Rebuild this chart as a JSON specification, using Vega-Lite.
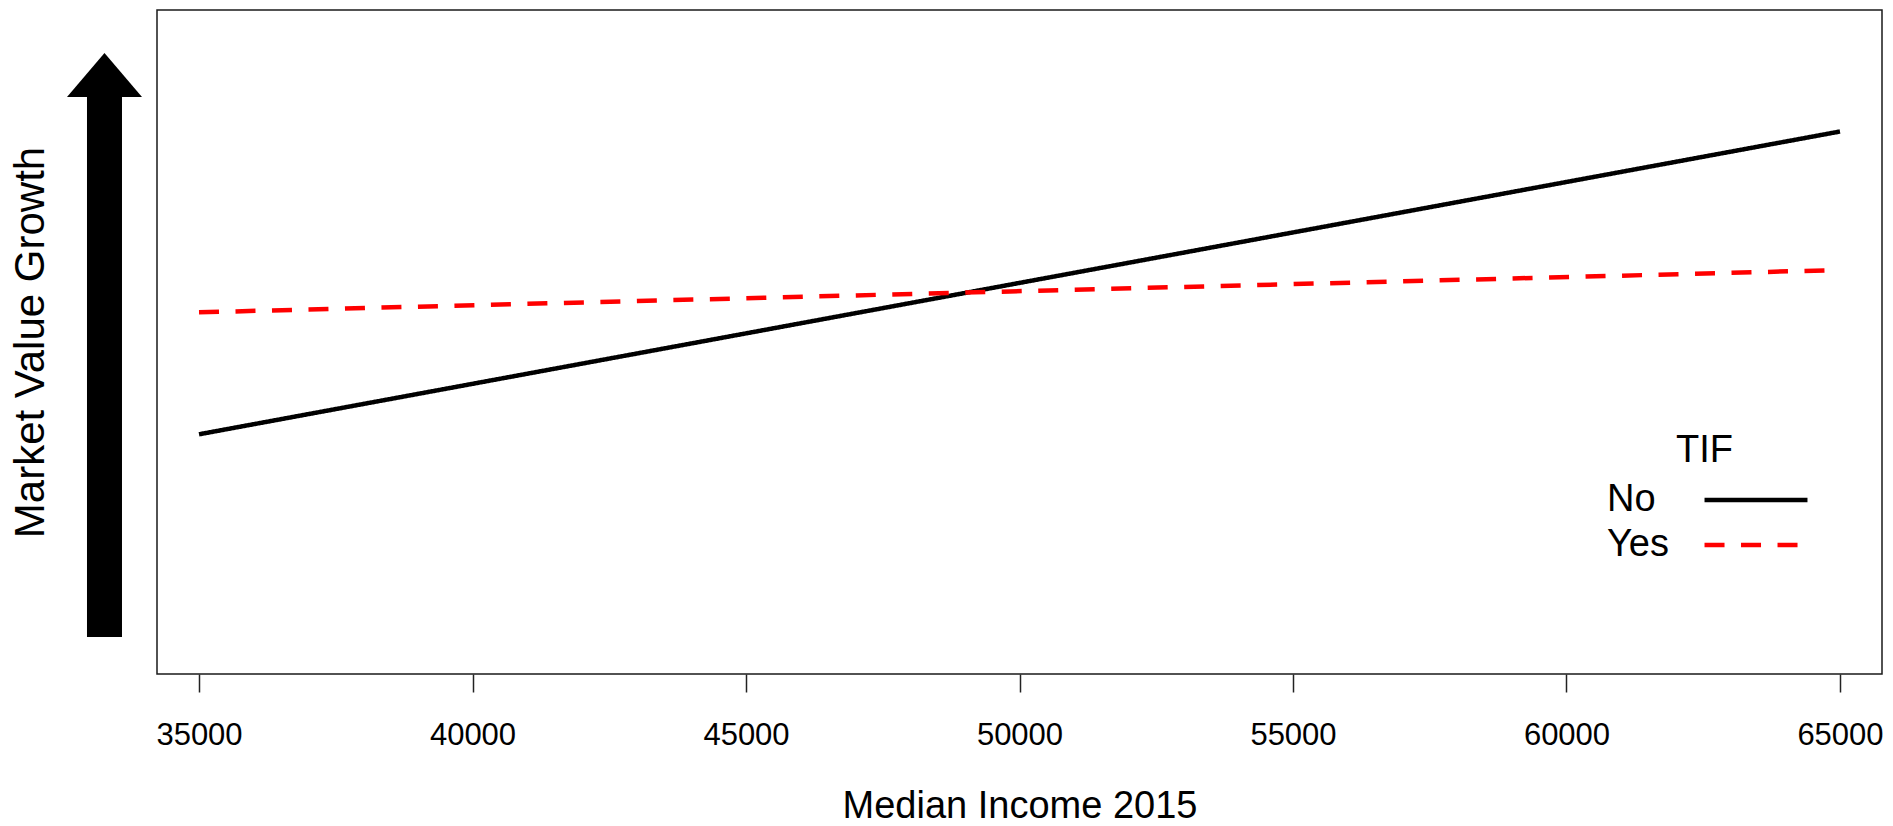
{
  "$schema": "https://vega.github.io/schema/vega-lite/v6.json",
  "autosize": {"type": "none"},
  "padding": {"left": 157, "top": 10, "right": 11, "bottom": 152},
  "width": 1725,
  "height": 664,
  "background": "white",
  "config": {
    "view": {"stroke": "#1a1a1a", "strokeWidth": 1.5},
    "axis": {"grid": false},
    "legend": {
      "orient": "none",
      "legendX": 1519.5,
      "legendY": 422,
      "padding": 0,
      "symbolType": "M-10,0H10",
      "symbolSize": 106,
      "symbolStrokeWidth": 4.5,
      "symbolOffset": 32.5,
      "rowPadding": 7,
      "labelOffset": -168,
      "labelAlign": "left",
      "labelBaseline": "middle",
      "labelFont": "Liberation Sans",
      "labelFontSize": 38,
      "labelColor": "black",
      "labelLimit": 0,
      "titleFont": "Liberation Sans",
      "titleFontSize": 38,
      "titleFontWeight": "normal",
      "titleColor": "black",
      "titleAnchor": "start",
      "titleAlign": "center",
      "titlePadding": 11
    }
  },
  "layer": [
    {
      "data": {"values": [{}]},
      "mark": {"type": "rect", "fill": "black"},
      "encoding": {
        "x": {"datum": 32952, "type": "quantitative"},
        "x2": {"datum": 33592},
        "y": {"datum": 5.57, "type": "quantitative"},
        "y2": {"datum": 86.9}
      }
    },
    {
      "data": {"values": [{}]},
      "mark": {"type": "point", "shape": "M0,-0.587L-1,0.587L1,0.587Z", "size": 5625, "filled": true, "fill": "black", "opacity": 1, "strokeWidth": 0},
      "encoding": {
        "x": {"datum": 33272, "type": "quantitative"},
        "y": {"datum": 90.21, "type": "quantitative"}
      }
    },
    {
      "data": {
        "values": [
          {"income": 35000, "growth": 36.1, "TIF": "No"},
          {"income": 65000, "growth": 81.7, "TIF": "No"},
          {"income": 35000, "growth": 54.47, "TIF": "Yes"},
          {"income": 65000, "growth": 60.84, "TIF": "Yes"}
        ]
      },
      "mark": {"type": "line", "strokeWidth": 4.5, "strokeCap": "butt"},
      "encoding": {
        "x": {
          "field": "income",
          "type": "quantitative",
          "scale": {"domain": [34232, 65768], "nice": false, "zero": false},
          "axis": {
            "title": "Median Income 2015",
            "values": [35000, 40000, 45000, 50000, 55000, 60000, 65000],
            "format": "d",
            "domain": false,
            "grid": false,
            "tickSize": 18,
            "tickWidth": 1.5,
            "tickColor": "#222222",
            "labelFont": "Liberation Sans",
            "labelFontSize": 31,
            "labelColor": "black",
            "labelPadding": 28.5,
            "labelFlush": false,
            "labelOverlap": false,
            "titleFont": "Liberation Sans",
            "titleFontSize": 38,
            "titleFontWeight": "normal",
            "titleColor": "black",
            "titlePadding": 36.5
          }
        },
        "y": {
          "field": "growth",
          "type": "quantitative",
          "scale": {"domain": [0, 100], "nice": false, "zero": false},
          "axis": {
            "title": "Market Value Growth",
            "labels": false,
            "ticks": false,
            "domain": false,
            "grid": false,
            "titleFont": "Liberation Sans",
            "titleFontSize": 42,
            "titleFontWeight": "normal",
            "titleColor": "black",
            "titlePadding": 105
          }
        },
        "color": {
          "field": "TIF",
          "type": "nominal",
          "scale": {"domain": ["No", "Yes"], "range": ["black", "red"]},
          "legend": {"title": "TIF"}
        },
        "strokeDash": {
          "field": "TIF",
          "type": "nominal",
          "scale": {"domain": ["No", "Yes"], "range": [[1, 0], [20, 16.5]]},
          "legend": {"title": "TIF"}
        }
      }
    }
  ]
}
